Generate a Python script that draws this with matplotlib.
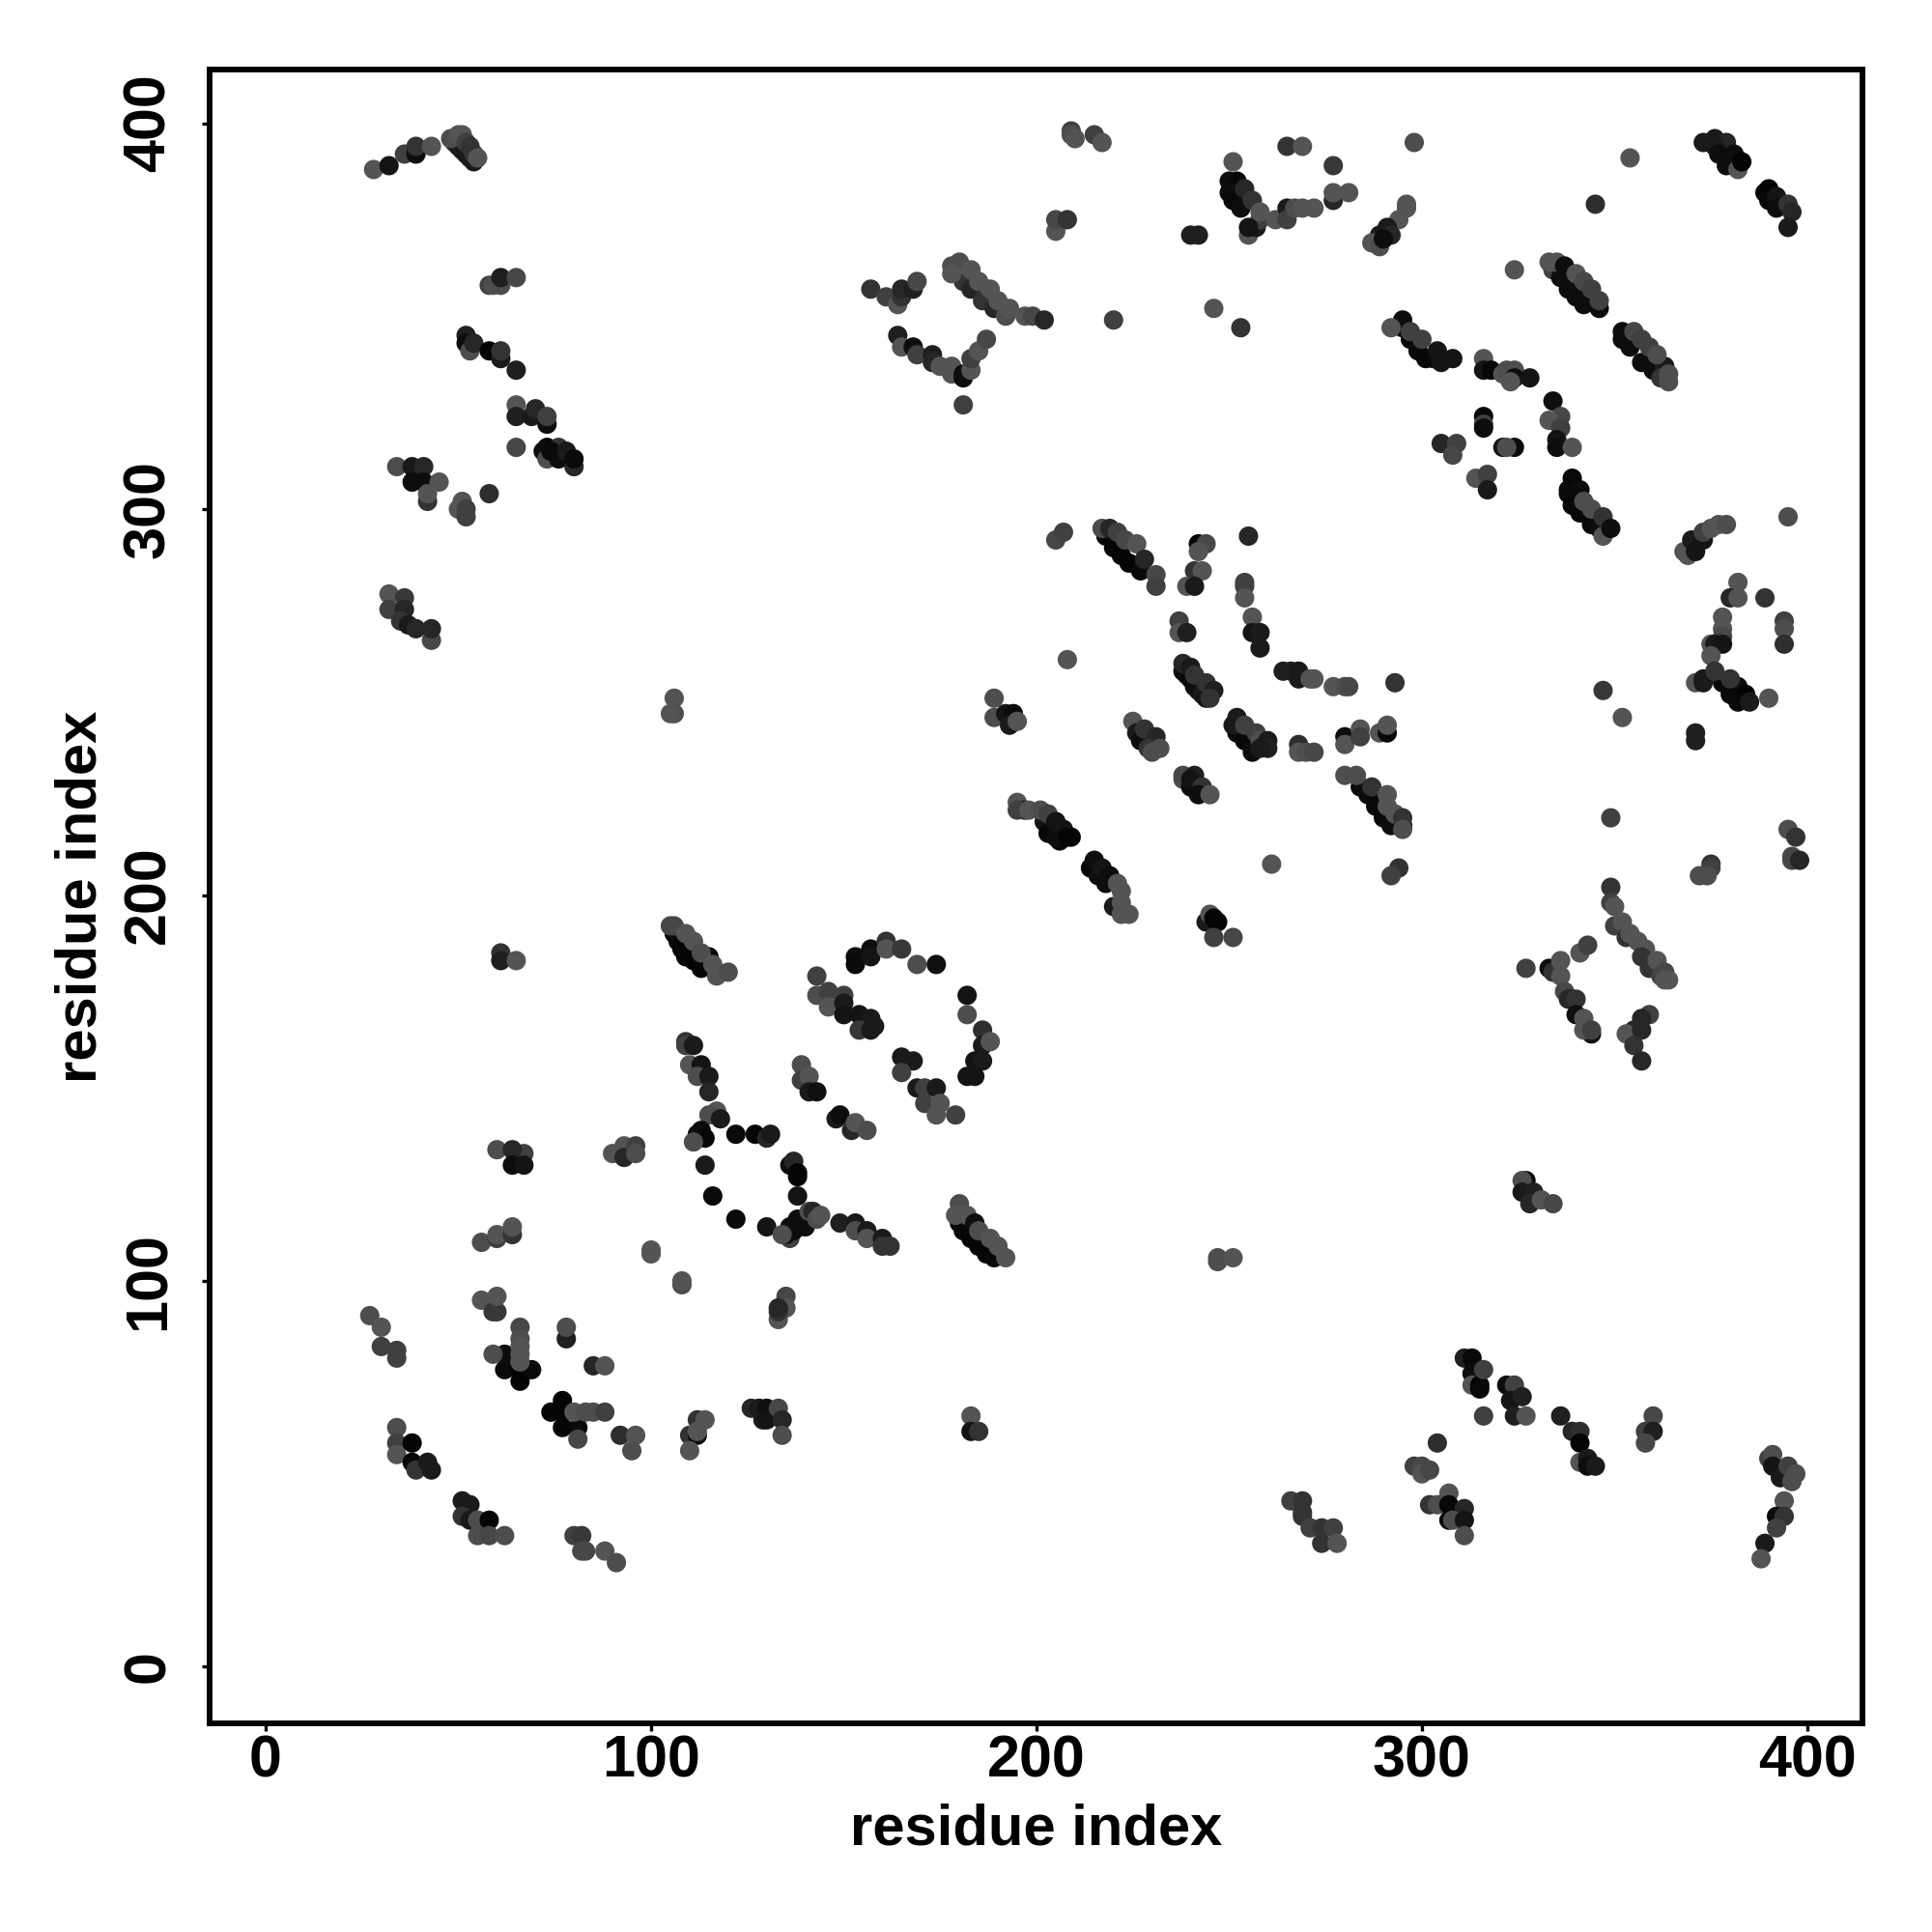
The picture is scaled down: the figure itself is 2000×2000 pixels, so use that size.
"""Residue contact map: predicted contacts as grey dots, darker means stronger."""

import matplotlib
matplotlib.use("Agg")
import matplotlib.pyplot as plt

# upper left block
ul_i = [28, 32, 36, 39, 39, 43, 49, 50, 51, 52, 53, 54, 48, 50, 51, 52, 53, 54, 55,
        58, 59, 61, 61, 65,
        52, 52, 53, 54, 58, 61, 61, 65,
        65, 65, 69, 70, 73, 73,
        65, 73, 72, 73, 76, 76, 74, 78, 80, 80,
        34, 38, 41, 38, 41, 45, 42, 42, 58, 51, 50, 52, 52,
        32, 36, 32, 36, 35, 37, 39, 43, 43]
ul_j = [388, 389, 392, 392, 394, 394, 395, 394, 393, 392, 391, 390, 396, 397, 397, 395, 394, 392, 391,
        358, 358, 358, 360, 360,
        345, 343, 341, 343, 341, 339, 341, 336,
        327, 324, 324, 326, 322, 324,
        316, 316, 315, 313, 313, 316, 315, 315, 311, 313,
        311, 311, 311, 307, 307, 307, 302, 304, 304, 302, 300, 300, 298,
        278, 277, 274, 274, 271, 270, 269, 266, 269]
ul_shade = [.33, .08, .25, .05, .2, .33, .1, .1, .1, .1, .1, .1, .3, .33, .33, .25, .2, .2, .33,
            .25, .3, .3, .12, .28,
            .12, .05, .3, .15, .02, .1, .2, .12,
            .33, .12, .1, .15, .05, .25,
            .28, .02, .05, .3, .05, .2, .04, .1, .15, .04,
            .3, .1, .15, .05, .05, .33, .2, .33, .18, .33, .33, .25, .25,
            .33, .22, .25, .15, .2, .1, .15, .28, .15]

# top middle block
tm_i = [209, 209, 210, 215, 217, 265, 269, 251,
        250, 252, 250, 251, 253, 255, 257, 258, 254, 256, 258, 255, 262, 265, 265, 267, 269,
        240, 242, 205, 205, 208,
        157, 161, 164, 165, 165, 168, 169,
        178, 181, 183, 180, 178, 183, 185, 186, 188, 189, 190, 192, 193, 197, 199, 202,
        164, 165, 168, 169, 173, 173, 175, 178, 178, 181, 181, 183, 183, 185, 187,
        181, 220, 246, 253,
        205, 207,
        218, 220, 222, 224, 227, 217, 219, 221, 223, 226, 228, 231, 231,
        242, 244, 242, 241, 243, 239, 241, 255, 254, 254, 254, 256, 237]
tm_j = [398, 397, 396, 397, 395, 394, 394, 390,
        385, 385, 382, 380, 378, 371, 373, 375, 383, 380, 377, 373, 375, 378, 375, 378, 378,
        371, 371, 372, 375, 375,
        357, 355, 353, 355, 357, 357, 359,
        363, 359, 357, 364, 361, 362, 359, 354, 357, 352, 354, 350, 352, 350, 350, 349,
        345, 342, 342, 340, 340, 338, 337, 337, 335, 335, 334, 336, 339, 341, 344,
        327, 349, 352, 347,
        292, 294,
        293, 290, 288, 286, 284, 295, 295, 294, 292, 291, 287, 283, 280,
        291, 291, 289, 284, 284, 280, 280, 293, 281, 280, 277, 272, 271]
tm_shade = [.25, .3, .33, .25, .33, .2, .33, .33,
            .05, .03, .05, .03, .05, .33, .1, .25, .15, .2, .33, .08, .33, .1, .25, .3, .33,
            .12, .12, .33, .28, .2,
            .2, .25, .33, .2, .15, .12, .28,
            .3, .2, .15, .3, .33, .33, .33, .2, .33, .15, .33, .3, .33, .33, .28, .15,
            .12, .33, .05, .25, .12, .15, .33, .33, .33, .05, .05, .33, .25, .33, .28,
            .25, .25, .33, .2,
            .28, .25,
            .02, .02, .02, .02, .03, .3, .15, .25, .28, .33, .15, .28, .25,
            .02, .28, .33, .2, .33, .33, .1, .15, .25, .25, .33, .33, .25]

# upper right block
ur_i = [298, 354, 277, 277, 277, 281, 272, 345,
        296, 296, 294, 291, 289, 292, 287, 289, 290,
        373, 376, 379, 376, 377, 381, 379, 382, 383,
        389, 390, 390, 392, 392, 395, 396, 395,
        324,
        334, 336, 338, 340, 342, 346, 333, 335, 337, 340, 342, 344, 346,
        352, 352, 354, 357, 360, 363, 362, 355, 357, 359, 361, 364, 364,
        295, 295, 297, 299, 301, 303, 292, 297, 300, 304, 305, 308,
        316, 316, 318, 321, 322, 324, 324, 323, 328,
        334, 336, 333, 336, 335, 335, 339,
        316, 316, 316, 305, 309, 308, 321, 324, 322, 314, 317, 317,
        339, 338, 341, 338, 339, 341, 344, 346, 342, 344, 347, 347, 349,
        395, 369, 368, 370, 371, 373, 373, 375, 377, 379,
        382, 380, 382, 389, 378, 394]
ur_j = [395, 391, 389, 380, 382, 382, 378, 379,
        379, 378, 375, 373, 371, 371, 369, 368, 370,
        395, 396, 395, 394, 392, 392, 389, 388, 390,
        382, 383, 380, 381, 378, 379, 377, 373,
        362,
        362, 360, 357, 355, 353, 352, 364, 364, 363, 361, 359, 357, 354,
        346, 344, 342, 338, 336, 337, 334, 346, 344, 342, 340, 335, 333,
        349, 347, 344, 341, 339, 339, 347, 346, 344, 341, 338, 339,
        339, 336, 336, 335, 336, 336, 334, 333, 334,
        328, 324, 323, 321, 318, 316, 316,
        324, 322, 321, 317, 317, 314, 316, 316, 316, 308, 309, 305,
        308, 305, 305, 304, 301, 299, 296, 295, 302, 300, 298, 293, 295,
        298, 288, 289, 292, 289, 292, 294, 295, 296, 296,
        281, 277, 277, 277, 272, 271]
ur_shade = [.3, .33, .22, .15, .33, .33, .33, .18,
            .33, .33, .33, .1, .1, .15, .33, .3, .05,
            .1, .1, .15, .1, .05, .05, .05, .33, .01,
            .03, .01, .03, .08, .05, .2, .15, .1,
            .33,
            .25, .05, .05, .05, .05, .04, .33, .33, .05, .33, .28, .25, .25,
            .05, .05, .05, .05, .05, .1, .2, .28, .25, .25, .3, .3, .3,
            .05, .05, .03, .03, .03, .03, .33, .25, .25, .08, .08, .08,
            .33, .08, .03, .33, .3, .3, .05, .33, .08,
            .06, .28, .33, .25, .08, .05, .33,
            .03, .25, .05, .15, .25, .28, .08, .04, .3, .33, .25, .1,
            .03, .03, .05, .04, .03, .03, .03, .05, .3, .3, .2, .33, .05,
            .3, .33, .33, .1, .08, .08, .25, .33, .33, .3,
            .33, .15, .33, .2, .33, .25]

# left of the centre
ml_i = [106, 106, 105, 61, 61, 65,
        106, 107, 108, 109, 111, 113, 115, 117, 105, 106, 109, 111, 113, 116, 117, 120,
        109, 109, 111, 110, 113, 112, 115, 115,
        67, 60, 64, 64, 67,
        90, 93, 93, 96, 96,
        117, 115, 113, 112, 114, 111, 118, 122, 127, 114]
ml_j = [251, 247, 247, 185, 183, 183,
        190, 188, 186, 184, 183, 181, 184, 180, 192, 192, 190, 188, 185, 182, 179, 180,
        162, 161, 161, 156, 156, 153, 153, 149,
        133, 134, 134, 130, 130,
        133, 135, 132, 135, 133,
        144, 143, 139, 138, 137, 136, 142, 138, 138, 130]
ml_shade = [.33, .3, .33, .2, .12, .33,
            .02, .03, .02, .02, .02, .02, .02, .05, .28, .28, .33, .33, .3, .33, .33, .3,
            .2, .25, .1, .33, .08, .3, .1, .15,
            .25, .3, .15, .05, .08,
            .33, .33, .15, .25, .3,
            .33, .3, .04, .05, .03, .3, .1, .04, .02, .1]

# centre block
mm_i = [237, 239, 256, 258, 258, 208,
        189, 189, 192, 194, 193, 195,
        238, 239, 240, 241, 242, 243, 244, 238, 240, 241, 244, 246, 245,
        264, 266, 268, 268, 271,
        225, 226, 227, 228, 231, 229, 232, 230,
        252, 251, 252, 254, 256, 254, 257, 258, 260, 260, 258,
        268, 268, 270,
        238, 238, 240, 241, 240, 243, 242, 245,
        195, 197, 202, 205, 203, 207, 206, 205, 208, 195, 198, 201, 203, 205, 209,
        214, 215, 216, 217, 218, 219, 220, 221, 222, 222, 222, 224,
        244, 245, 246, 247, 246, 251, 261,
        153, 153, 157, 157, 161, 161, 165, 169, 174,
        143, 143, 146, 146, 150, 150, 150, 154, 157, 154, 158, 157,
        182, 182, 186, 186, 188, 184, 186, 182, 184,
        165, 168, 165, 169, 171, 174, 171, 175, 174, 179,
        139, 139, 141, 141, 143,
        148, 149, 152, 153, 156,
        130, 131, 136, 137, 138]
mm_j = [268, 268, 268, 268, 264, 261,
        251, 246, 247, 247, 244, 245,
        258, 257, 256, 254, 253, 252, 251, 260, 259, 257, 255, 253, 251,
        258, 258, 258, 256, 256,
        245, 242, 240, 243, 241, 238, 238, 237,
        242, 244, 246, 240, 237, 244, 242, 240, 240, 238, 238,
        239, 237, 237,
        230, 231, 228, 231, 230, 228, 226, 226,
        224, 222, 219, 219, 216, 217, 214, 215, 215, 222, 222, 222, 221, 219, 215,
        207, 209, 205, 207, 203, 205, 197, 203, 201, 198, 195, 195,
        193, 195, 194, 193, 189, 189, 208,
        184, 182, 186, 184, 188, 186, 186, 182, 182,
        179, 174, 175, 171, 174, 172, 169, 169, 168, 165, 166, 165,
        174, 169, 165, 161, 162, 157, 157, 153, 153,
        158, 157, 154, 150, 150, 150, 146, 146, 143, 143,
        156, 152, 153, 149, 149,
        142, 143, 139, 141, 139,
        137, 138, 130, 131, 128]
mm_shade = [.33, .12, .08, .1, .1, .33,
            .3, .3, .08, .04, .1, .33,
            .04, .05, .03, .04, .05, .1, .08, .15, .1, .2, .2, .12, .2,
            .12, .12, .1, .1, .33,
            .33, .1, .05, .2, .15, .2, .3, .3,
            .03, .1, .1, .03, .05, .25, .25, .3, .1, .12, .1,
            .18, .33, .3,
            .3, .28, .05, .12, .08, .2, .05, .33,
            .33, .1, .08, .03, .03, .08, .03, .05, .02, .25, .33, .3, .25, .08, .02,
            .02, .05, .05, .08, .05, .05, .1, .33, .33, .33, .33, .33,
            .1, .33, .02, .02, .25, .28, .33,
            .05, .04, .05, .08, .2, .33, .22, .3, .06,
            .25, .3, .25, .33, .25, .1, .08, .08, .1, .22, .1, .1,
            .08, .3, .18, .1, .33, .08, .1, .08, .08,
            .1, .1, .25, .1, .25, .1, .25, .33, .33, .25,
            .3, .25, .33, .1, .06,
            .1, .05, .15, .33, .3,
            .15, .1, .05, .15, .02]

# right of the centre
mr_i = [378, 378, 375, 376, 378, 375, 394, 394,
        371, 373, 373, 378, 382, 380, 384, 382, 376, 380, 385, 390,
        371, 371, 347, 352,
        375, 375, 372, 374, 395, 397, 396, 396, 398, 349,
        349, 349, 350, 350, 352, 353, 354, 356, 358, 357, 359, 361, 362, 363, 364, 363,
        333, 334, 336, 336, 337, 339, 341, 343, 338, 340, 340, 342, 344, 342, 344,
        359, 357, 355, 353, 357, 355, 357,
        272, 277, 280, 281, 293, 280, 280, 284, 284, 289, 291, 291, 272,
        284, 286, 288, 288, 290, 292, 295, 280, 283, 287, 291, 291, 293, 295, 295,
        294, 292, 327]
mr_j = [269, 267, 265, 265, 265, 262, 269, 265,
        255, 256, 255, 255, 254, 252, 252, 250, 258, 256, 250, 251,
        242, 240, 253, 246,
        208, 207, 205, 205, 217, 215, 210, 209, 209, 220,
        202, 198, 197, 192, 193, 189, 190, 188, 186, 184, 181, 183, 179, 180, 178, 178,
        181, 180, 183, 179, 175, 173, 185, 187, 173, 173, 169, 168, 164, 165, 165,
        169, 168, 165, 164, 165, 161, 157,
        256, 254, 254, 254, 255, 241, 239, 243, 241, 242, 242, 244, 237,
        228, 226, 226, 223, 220, 218, 218, 231, 231, 228, 226, 223, 221, 220, 217,
        207, 205, 181]
mr_shade = [.33, .28, .33, .1, .08, .33, .3, .18,
            .33, .1, .1, .04, .05, .03, .01, .03, .2, .2, .1, .33,
            .12, .12, .22, .33,
            .2, .25, .3, .3, .3, .2, .28, .28, .15, .25,
            .2, .25, .33, .25, .33, .2, .33, .33, .33, .2, .2, .33, .25, .28, .33, .33,
            .05, .2, .33, .33, .28, .12, .33, .25, .15, .2, .06, .33, .05, .33, .25,
            .25, .15, .15, .33, .15, .2, .15,
            .33, .33, .3, .28, .2, .05, .33, .33, .25, .33, .03, .33, .28,
            .05, .05, .03, .03, .03, .05, .05, .3, .3, .2, .33, .33, .33, .2, .3,
            .2, .25, .25]

# lower left block
ll_i = [116, 122, 56, 60, 60, 64, 64, 100, 100, 108, 108,
        56, 59, 60, 60, 27, 30, 30, 34, 34,
        62, 66, 66, 62, 69, 66, 66, 66, 66, 66, 59,
        78, 78, 85, 88,
        77, 74, 77, 77, 81, 80, 83, 85, 88, 81,
        92, 96, 95,
        112, 110, 112, 114, 112, 110,
        34, 34, 34, 38, 38, 39, 42, 43,
        51, 53, 51, 53, 55, 58, 55, 58, 62,
        80, 82, 82, 83, 88, 91,
        126, 128, 129]
ll_j = [122, 116, 110, 111, 112, 112, 114, 107, 108, 99, 100,
        95, 92, 92, 96, 91, 88, 83, 80, 82,
        77, 77, 74, 81, 77, 88, 85, 83, 81, 79, 81,
        85, 88, 78, 78,
        69, 66, 66, 62, 62, 66, 66, 66, 66, 59,
        60, 60, 56,
        64, 60, 60, 64, 61, 56,
        62, 58, 55, 53, 58, 51, 53, 51,
        43, 42, 39, 38, 38, 38, 34, 34, 34,
        34, 34, 30, 30, 30, 27,
        67, 67, 64]
ll_shade = [.04, .04, .3, .25, .33, .2, .33, .33, .33, .3, .33,
            .33, .22, .22, .33, .3, .33, .25, .25, .25,
            .04, .01, .01, .05, .04, .28, .3, .33, .33, .33, .3,
            .12, .3, .15, .33,
            .01, .02, .02, .02, .04, .33, .3, .3, .25, .28,
            .18, .33, .3,
            .2, .2, .05, .33, .33, .33,
            .3, .25, .33, .03, .02, .2, .1, .1,
            .1, .1, .2, .1, .3, .02, .3, .28, .3,
            .25, .22, .28, .28, .33, .3,
            .15, .1, .1]

# lower middle block
lm_i = [138, 138, 130,
        136, 135, 137, 136, 138, 140, 134, 141, 142, 143, 144,
        149, 153, 153, 156, 156, 160, 160, 162,
        180, 181, 183, 185, 187, 189, 180, 179, 182, 184, 185, 188, 190, 192,
        133, 135, 135, 133, 133,
        130, 130, 133, 134, 134, 183, 183, 185,
        247, 247, 251, 266, 269, 269, 269, 271]
lm_j = [127, 122, 114,
        111, 112, 113, 114, 116, 114, 112, 118, 118, 116, 117,
        115, 115, 113, 113, 111, 111, 109, 109,
        115, 113, 111, 109, 107, 106, 120, 117, 117, 115, 113, 111, 109, 106,
        90, 96, 93, 92, 93,
        67, 64, 67, 64, 60, 65, 61, 61,
        106, 105, 106, 43, 43, 40, 39, 36]
lm_shade = [.02, .08, .08,
            .25, .05, .05, .05, .05, .05, .3, .3, .15, .3, .33,
            .12, .1, .3, .1, .33, .1, .2, .2,
            .03, .03, .02, .02, .02, .03, .3, .33, .33, .05, .3, .33, .33, .33,
            .33, .28, .33, .2, .15,
            .06, .08, .28, .15, .3, .33, .08, .2,
            .3, .3, .33, .25, .2, .2, .2, .25]

# lower right block
lr_i = [327, 326, 326, 329, 328, 331, 334,
        311, 313, 313, 313, 315, 315, 316,
        322, 324, 323, 326, 324, 327, 316,
        336, 339, 341, 341, 341, 343, 343, 345,
        360, 358, 360, 358,
        304, 298, 300, 300, 302,
        307, 302, 304, 307, 311, 307, 308, 311, 311,
        274, 277, 274, 278,
        390, 391, 391, 393, 395, 397, 396,
        394, 392, 394, 392, 389, 388]
lr_j = [126, 126, 123, 123, 120, 121, 120,
        80, 80, 76, 73, 73, 72, 77,
        73, 73, 69, 70, 65, 65, 65,
        65, 61, 61, 58, 53, 54, 52, 52,
        65, 61, 61, 58,
        58, 52, 52, 50, 51,
        45, 42, 42, 42, 41, 38, 38, 38, 34,
        36, 36, 32, 32,
        54, 55, 52, 49, 52, 50, 48,
        43, 39, 39, 36, 32, 28]
lr_shade = [.03, .3, .1, .12, .15, .33, .28,
            .12, .03, .05, .33, .02, .03, .25,
            .05, .25, .08, .12, .12, .33, .25,
            .12, .15, .18, .02, .33, .1, .05, .1,
            .28, .25, .12, .28,
            .18, .25, .28, .33, .28,
            .33, .2, .3, .03, .15, .04, .3, .08, .3,
            .2, .25, .2, .33,
            .25, .3, .08, .1, .25, .3, .3,
            .33, .04, .2, .25, .1, .33]

res_i = ul_i + tm_i + ur_i + ml_i + mm_i + mr_i + ll_i + lm_i + lr_i
res_j = ul_j + tm_j + ur_j + ml_j + mm_j + mr_j + ll_j + lm_j + lr_j
shade = ul_shade + tm_shade + ur_shade + ml_shade + mm_shade + mr_shade + ll_shade + lm_shade + lr_shade

tick_vals = [0, 100, 200, 300, 400]

plt.rcParams["font.family"] = ["Liberation Sans", "DejaVu Sans"]
plt.rcParams["font.weight"] = "bold"

fig = plt.figure(figsize=(10, 10), dpi=200)
ax = fig.add_axes([216.5 / 2000, 1 - 1784 / 2000, 1711.5 / 2000, 1712 / 2000])

ax.scatter(res_i, res_j, s=52, c=[str(v) for v in shade], linewidths=0, zorder=2)

ax.set_xlim(-14.67, 414.3)
ax.set_ylim(-14.65, 413.9)
ax.set_xticks(tick_vals)
ax.set_yticks(tick_vals)
ax.tick_params(length=3, width=1.2, labelsize=22)
ax.tick_params(axis="x", pad=1)
ax.tick_params(axis="y", pad=9)
plt.setp(ax.get_yticklabels(), rotation=90, va="center")
ax.set_xlabel("residue index", fontsize=21.5, fontweight="bold", labelpad=5)
ax.set_ylabel("residue index", fontsize=21.5, fontweight="bold", labelpad=5.4)
for spine in ax.spines.values():
    spine.set_linewidth(2.1)

fig.savefig("out.png", dpi=200)
